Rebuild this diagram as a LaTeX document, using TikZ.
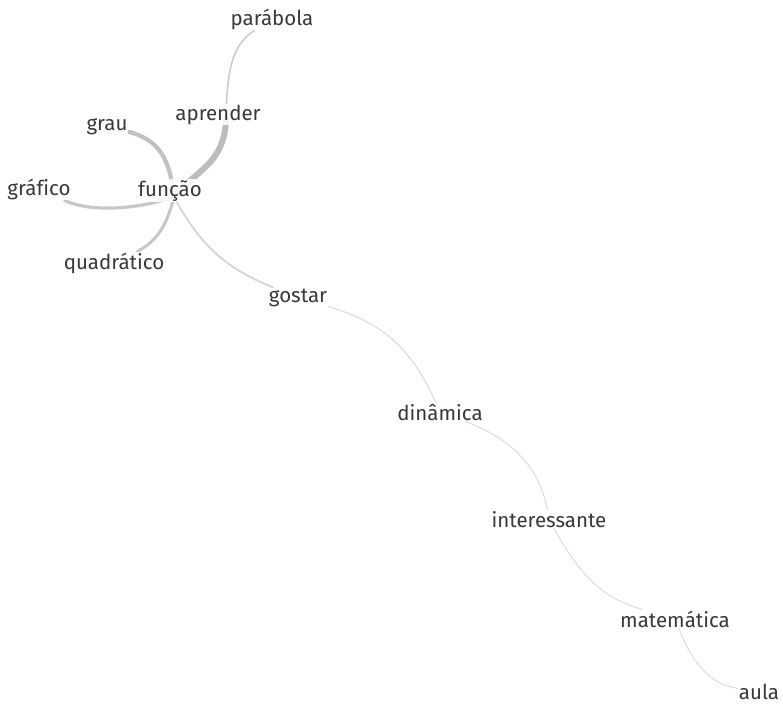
\documentclass[tikz,border=0pt]{standalone}
\usepackage{fontspec}
\setmainfont{Fira Sans}[Ligatures=NoCommon]
\usetikzlibrary{backgrounds}

\tikzset{
  word/.style={anchor=base, text=black!78, font=\fontsize{20.5}{24}\selectfont,
    fill=white, fill opacity=0.85, text opacity=1, inner sep=1pt},
  link/.style={draw=black!#1, line cap=round},
}

\begin{document}
\begin{tikzpicture}[x=1pt, y=-1pt]
    \useasboundingbox (0,0) rectangle (783,705);
    % words
    \node[word] (parabola) at (272,25) {parábola};
    \node[word] (aprender) at (218,120) {aprender};
    \node[word] (grau) at (107,130) {grau};
    \node[word] (grafico) at (39,195) {gráfico};
    \node[word] (funcao) at (170,196) {função};
    \node[word] (quadratico) at (114,269) {quadrático};
    \node[word] (gostar) at (298,302) {gostar};
    \node[word] (dinamica) at (440,420) {dinâmica};
    \node[word] (interessante) at (549,527) {interessante};
    \node[word] (matematica) at (675,627) {matemática};
    \node[word] (aula) at (759,699) {aula};
    \coordinate (hub) at ([shift={(4,1)}]funcao.base);
    \coordinate (aprender-hub) at ([shift={(8,-2)}]aprender.base);
    % links
    \begin{scope}[on background layer]
      \draw[link=20, line width=1.6] (parabola) .. controls (232,45) and (227,70) .. (aprender-hub);
      \draw[link=26, line width=6] (aprender-hub) .. controls (225,165) and (195,170) .. (hub);
      \draw[link=24, line width=4.2] (grau) .. controls (160,140) and (170,160) .. (hub);
      \draw[link=22, line width=3.2] (grafico) .. controls (90,212) and (135,210) .. (hub);
      \draw[link=22, line width=3] (quadratico) .. controls (160,240) and (168,220) .. (hub);
      \draw[link=17, line width=1.8] (hub) .. controls (200,245) and (225,268) .. (gostar);
      \draw[link=13, line width=1.2] (gostar) .. controls (380,322) and (410,345) .. (dinamica);
      \draw[link=13, line width=1.1] (dinamica) .. controls (515,440) and (540,470) .. (interessante);
      \draw[link=13, line width=1.1] (interessante) .. controls (585,585) and (610,600) .. (matematica);
      \draw[link=13, line width=1.1] (matematica) .. controls (695,670) and (715,685) .. (aula);
    \end{scope}
\end{tikzpicture}
\end{document}
